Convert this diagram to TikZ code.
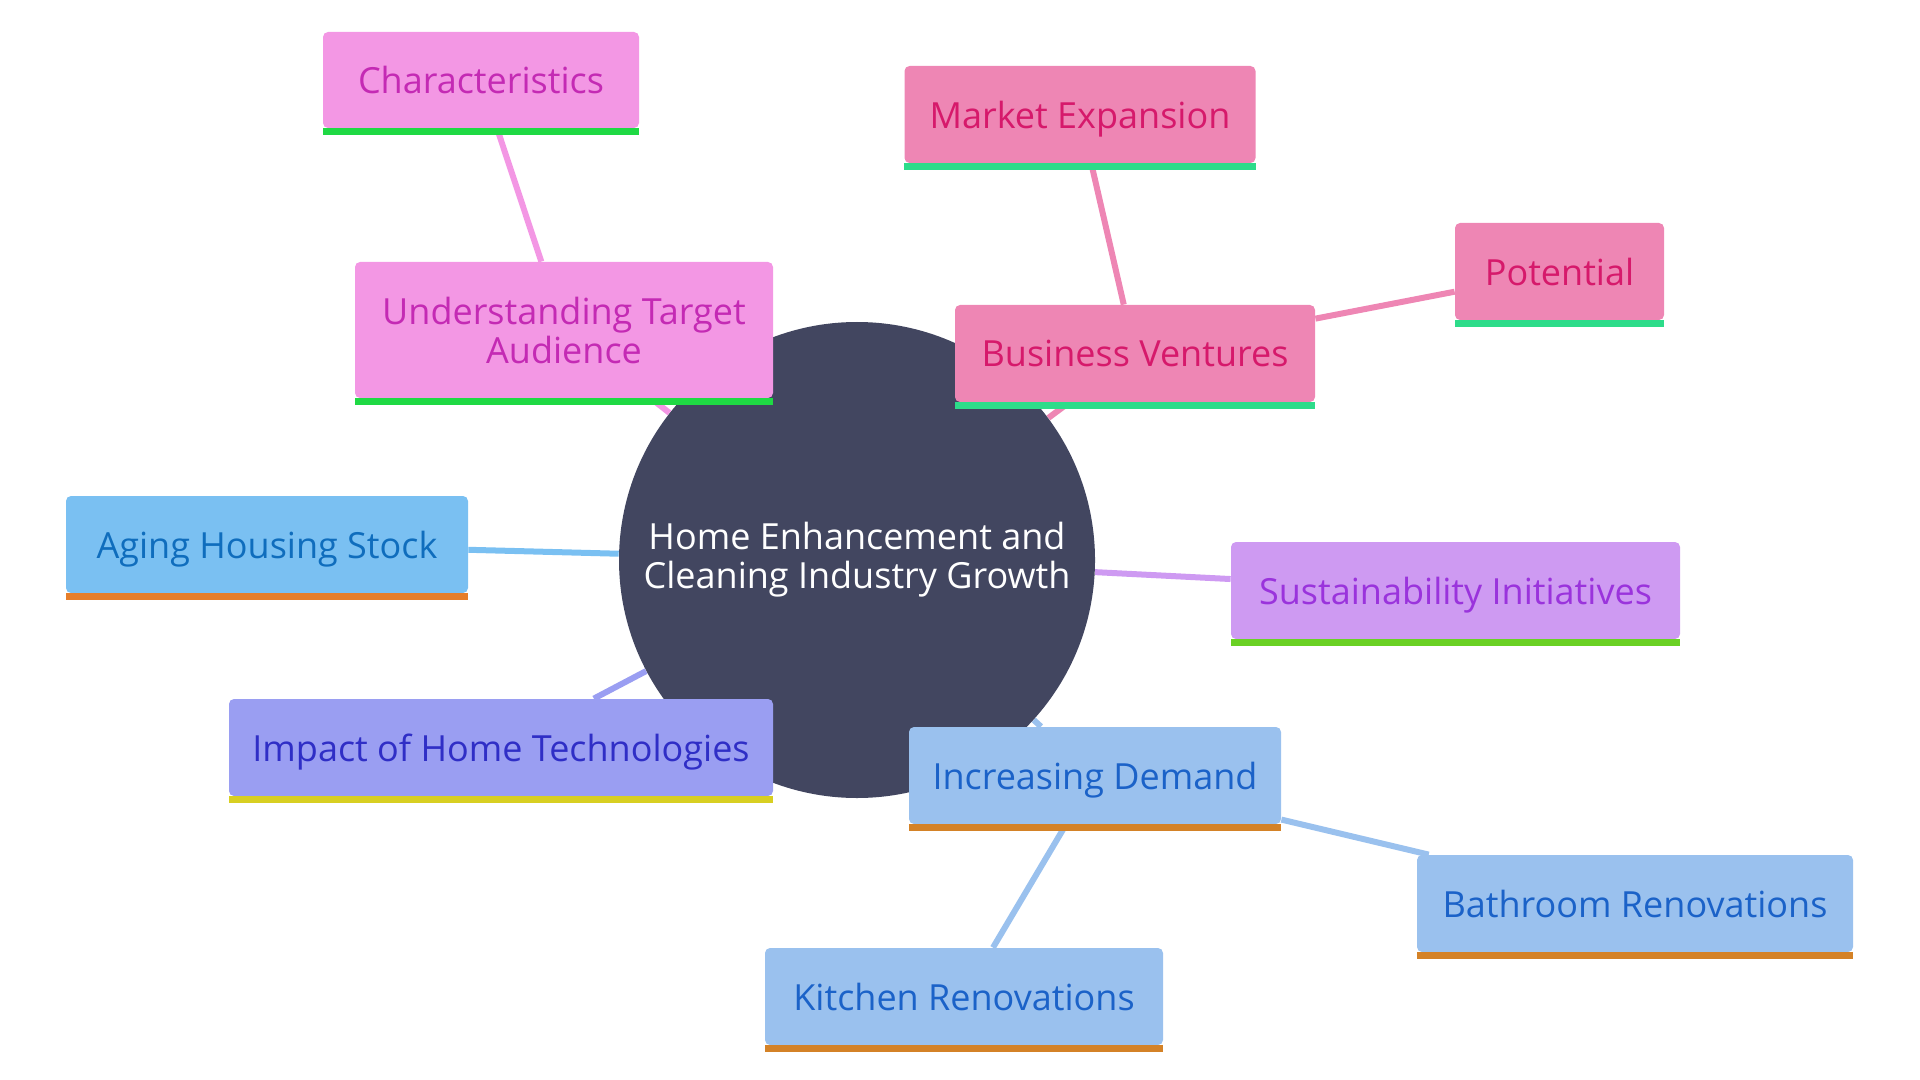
\documentclass[tikz,border=0pt]{standalone}
\usepackage{fontspec}
\setmainfont{Open Sans}
\usetikzlibrary{backgrounds}

\definecolor{rootfill}{HTML}{424660}
\definecolor{pinkfill}{HTML}{F397E4}
\definecolor{pinktext}{HTML}{C42AB4}
\definecolor{pinkbar}{HTML}{1FD944}
\definecolor{rosefill}{HTML}{EE86B4}
\definecolor{rosetext}{HTML}{D6196B}
\definecolor{rosebar}{HTML}{2DDC8A}
\definecolor{skyfill}{HTML}{7AC0F2}
\definecolor{skytext}{HTML}{0F6DBD}
\definecolor{skybar}{HTML}{E67E2A}
\definecolor{lilacfill}{HTML}{CE9AF2}
\definecolor{lilactext}{HTML}{9A33DC}
\definecolor{lilacbar}{HTML}{6AD124}
\definecolor{violetfill}{HTML}{9A9EF2}
\definecolor{violettext}{HTML}{2F2EC6}
\definecolor{violetbar}{HTML}{D8CF22}
\definecolor{bluefill}{HTML}{9AC1EE}
\definecolor{bluetext}{HTML}{1B62C8}
\definecolor{bluebar}{HTML}{D48227}

\begin{document}
\begin{tikzpicture}[x=0.5pt,y=-0.5pt,
    every node/.style={font=\fontsize{18}{19.5}\selectfont,align=center,inner sep=0pt},
    box/.style={rectangle,rounded corners=2.5pt,minimum height=48.5pt,text depth=0pt},
    pinkbox/.style={box,fill=pinkfill,text=pinktext},
    rosebox/.style={box,fill=rosefill,text=rosetext},
    skybox/.style={box,fill=skyfill,text=skytext},
    lilacbox/.style={box,fill=lilacfill,text=lilactext},
    violetbox/.style={box,fill=violetfill,text=violettext},
    bluebox/.style={box,fill=bluefill,text=bluetext},
    link/.style={line width=3pt}]
    \useasboundingbox (0,0) rectangle (1920,1080);

    \node[circle,fill=rootfill,text=white,minimum size=238pt] (root) at (857,560)
        {Home Enhancement and\\Cleaning Industry Growth};

    \node[pinkbox,minimum width=158pt,minimum height=48pt] (chars) at (481,80) {Characteristics};
    \node[pinkbox,minimum width=209pt,minimum height=68pt] (target) at (564,330) {Understanding Target\\Audience};
    \node[rosebox,minimum width=175.5pt] (market) at (1080,114.5) {Market Expansion};
    \node[rosebox,minimum width=104.5pt] (potential) at (1559.5,271.5) {Potential};
    \node[rosebox,minimum width=180pt] (business) at (1135,353.5) {Business Ventures};
    \node[skybox,minimum width=201pt] (aging) at (267,544.5) {Aging Housing Stock};
    \node[lilacbox,minimum width=224.5pt] (sustain) at (1455.5,590.5) {Sustainability Initiatives};
    \node[violetbox,minimum width=272pt] (impact) at (501,747.5) {Impact of Home Technologies};
    \node[bluebox,minimum width=186pt] (demand) at (1095,775.5) {Increasing Demand};
    \node[bluebox,minimum width=218pt] (bathroom) at (1635,903.5) {Bathroom Renovations};
    \node[bluebox,minimum width=199pt] (kitchen) at (964,996.5) {Kitchen Renovations};

    % coloured strip under each box
    \foreach \n/\c in {chars/pinkbar,target/pinkbar,market/rosebar,potential/rosebar,
        business/rosebar,aging/skybar,sustain/lilacbar,impact/violetbar,
        demand/bluebar,bathroom/bluebar,kitchen/bluebar}
        \fill[\c] (\n.south west) rectangle ([yshift=-3.5pt]\n.south east);

    \begin{scope}[on background layer]
        \draw[link,pinkfill]
            (root) -- (target)
            (target) -- (chars);
        \draw[link,rosefill]
            (root) -- (business)
            (business) -- (market)
            (business) -- (potential);
        \draw[link,skyfill] (root) -- (aging);
        \draw[link,lilacfill] (root) -- (sustain);
        \draw[link,violetfill] (root) -- (impact);
        \draw[link,bluefill]
            (root) -- (demand)
            (demand) -- (bathroom)
            (demand) -- (kitchen);
    \end{scope}
\end{tikzpicture}
\end{document}
